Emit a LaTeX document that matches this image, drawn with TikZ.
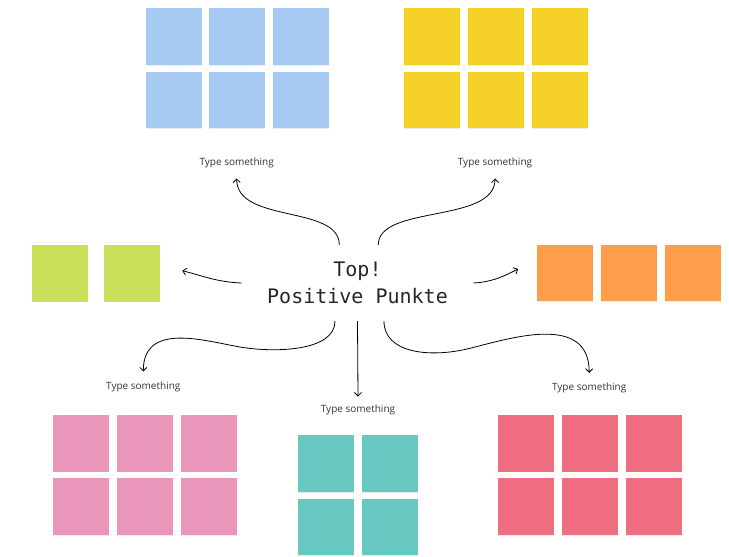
\documentclass[tikz,border=0pt]{standalone}
\usepackage{fontspec}
\setmainfont{Open Sans}
\newfontfamily\hubfont{DejaVu Sans Mono}
\usetikzlibrary{
  arrows.meta,
  positioning,
  shadows,
}
\definecolor{skyblue}{HTML}{A7CAF2}
\definecolor{sunyellow}{HTML}{F5D128}
\definecolor{limegreen}{HTML}{CBE05A}
\definecolor{tangerine}{HTML}{FE9E4A}
\definecolor{rosepink}{HTML}{EA96BA}
\definecolor{seateal}{HTML}{67C7C1}
\definecolor{coralred}{HTML}{EF6E80}
\tikzstyle{sticky} = [
rectangle,
minimum width=56pt,
minimum height=56.5pt,
inner sep=0pt,
drop shadow={shadow xshift=0pt, shadow yshift=-0.8pt, opacity=0.15}
]
\tikzstyle{caption} = [
font=\fontsize{10}{12}\selectfont,
text=black!80,
inner sep=0pt
]
\tikzstyle{headline} = [
font=\hubfont\fontsize{20}{27.3}\selectfont,
text=black!85,
align=center,
minimum width=231.6pt,
minimum height=76pt,
inner sep=0pt
]
\tikzstyle{arrow} = [draw, line width=0.8pt, -{Straight Barb[length=3.5pt, width=7pt]}]

\begin{document}
\begin{tikzpicture}[x=1pt, y=-1pt, node distance=6.5pt and 7.5pt]
  \useasboundingbox (0,0) rectangle (729,557);
  % Place nodes
  \node [headline] (hub) at (357.5,283) {Top!\\Positive Punkte};

  \node [sticky, fill=skyblue] (blue1) at (173.5,36.7) {};
  \node [sticky, fill=skyblue, right=of blue1] (blue2) {};
  \node [sticky, fill=skyblue, right=of blue2] (blue3) {};
  \node [sticky, fill=skyblue, below=of blue1] (blue4) {};
  \node [sticky, fill=skyblue, right=of blue4] (blue5) {};
  \node [sticky, fill=skyblue, right=of blue5] (blue6) {};

  \node [sticky, fill=sunyellow] (yellow1) at (432,36.7) {};
  \node [sticky, fill=sunyellow, right=of yellow1] (yellow2) {};
  \node [sticky, fill=sunyellow, right=of yellow2] (yellow3) {};
  \node [sticky, fill=sunyellow, below=of yellow1] (yellow4) {};
  \node [sticky, fill=sunyellow, right=of yellow4] (yellow5) {};
  \node [sticky, fill=sunyellow, right=of yellow5] (yellow6) {};

  \node [sticky, fill=limegreen] (green1) at (59.7,273.3) {};
  \node [sticky, fill=limegreen, right=15.6pt of green1] (green2) {};

  \node [sticky, fill=tangerine] (orange1) at (564.7,273.2) {};
  \node [sticky, fill=tangerine, right=of orange1] (orange2) {};
  \node [sticky, fill=tangerine, right=of orange2] (orange3) {};

  \node [sticky, fill=rosepink] (pink1) at (80.7,443.3) {};
  \node [sticky, fill=rosepink, right=of pink1] (pink2) {};
  \node [sticky, fill=rosepink, right=of pink2] (pink3) {};
  \node [sticky, fill=rosepink, below=of pink1] (pink4) {};
  \node [sticky, fill=rosepink, right=of pink4] (pink5) {};
  \node [sticky, fill=rosepink, right=of pink5] (pink6) {};

  \node [sticky, fill=seateal] (teal1) at (326.2,463.5) {};
  \node [sticky, fill=seateal, right=of teal1] (teal2) {};
  \node [sticky, fill=seateal, below=of teal1] (teal3) {};
  \node [sticky, fill=seateal, right=of teal3] (teal4) {};

  \node [sticky, fill=coralred] (red1) at (526.2,443.3) {};
  \node [sticky, fill=coralred, right=of red1] (red2) {};
  \node [sticky, fill=coralred, right=of red2] (red3) {};
  \node [sticky, fill=coralred, below=of red1] (red4) {};
  \node [sticky, fill=coralred, right=of red4] (red5) {};
  \node [sticky, fill=coralred, right=of red5] (red6) {};

  \node [caption] (blueTag) at (236.7,163.3) {Type something};
  \node [caption] (yellowTag) at (495,163.3) {Type something};
  \node [caption] (pinkTag) at (143.3,386.7) {Type something};
  \node [caption] (tealTag) at (358,410) {Type something};
  \node [caption] (redTag) at (589.2,388) {Type something};

  % Draw edges
  \path [arrow] ([xshift=-18.2pt]hub.north) .. controls +(0,-40) and +(0,45) .. ([yshift=-10pt]blueTag.south);
  \path [arrow] ([xshift=20.8pt]hub.north) .. controls +(0,-40) and +(0,45) .. ([yshift=-10pt]yellowTag.south);
  \path [arrow] (hub.west) .. controls +(-25,-1) and +(20,5) .. ([xshift=22.4pt, yshift=2.6pt]green2.east);
  \path [arrow] (hub.east) .. controls +(20,-1) and +(-12,6) .. ([xshift=-18.4pt, yshift=4.2pt]orange1.west);
  \path [arrow] ([xshift=-22.5pt]hub.south) .. controls +(0,30) and +(35,6) .. (240,347)
    .. controls +(-35,-6) and +(0,-50) .. ([yshift=10pt]pinkTag.north);
  \path [arrow] (hub.south) -- ([yshift=8.3pt]tealTag.north);
  \path [arrow] ([xshift=26.5pt]hub.south) .. controls +(0,32) and +(-40,10) .. (470,348.3)
    .. controls +(40,-10) and +(0,-60) .. ([yshift=10pt]redTag.north);

\end{tikzpicture}
\end{document}
